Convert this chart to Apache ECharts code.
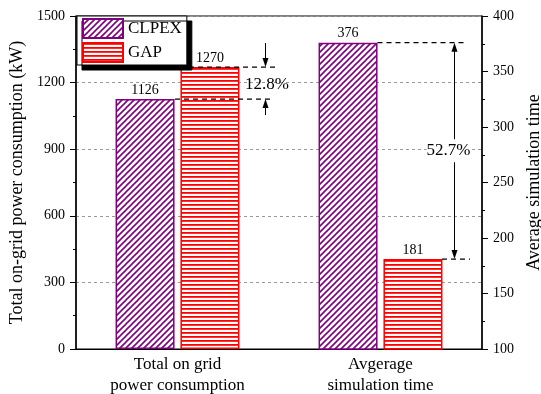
<!DOCTYPE html>
<html>
<head>
<meta charset="utf-8">
<script src="https://cdn.jsdelivr.net/npm/echarts@6/dist/echarts.min.js"></script>
<style>
html, body { margin: 0; padding: 0; background: #fff; }
#main { width: 541px; height: 394px; }
</style>
</head>
<body>
<div id="main"></div>
<script>
// data
var categories = ['Total on grid\npower consumption', 'Avgerage\nsimulation time'];
var clpex = [1126, 376];   // kW , s
var gap = [1270, 181];
var diffText = ['12.8%', '52.7%'];
var leftRange = [0, 1500, 300];
var rightRange = [100, 400, 50];

var FONT = 'Liberation Serif';

// hatch fills
function diagHatch(color) {
  var c = document.createElement('canvas');
  c.width = 6; c.height = 6;
  var ctx = c.getContext('2d');
  ctx.fillStyle = '#fff';
  ctx.fillRect(0, 0, 6, 6);
  ctx.strokeStyle = color;
  ctx.lineWidth = 1.6;
  ctx.beginPath();
  ctx.moveTo(-1, 7); ctx.lineTo(7, -1);
  ctx.moveTo(-1, 1); ctx.lineTo(1, -1);
  ctx.moveTo(5, 7); ctx.lineTo(7, 5);
  ctx.stroke();
  return { image: c, repeat: 'repeat' };
}
function stripeHatch(color) {
  var c = document.createElement('canvas');
  c.width = 4; c.height = 4;
  var ctx = c.getContext('2d');
  ctx.fillStyle = '#fff';
  ctx.fillRect(0, 0, 4, 4);
  ctx.fillStyle = color;
  ctx.fillRect(0, 0, 4, 1.8);
  return { image: c, repeat: 'repeat' };
}

var purple = '#800080';
var red = '#ff0000';

// one series per bar: first category on left axis, second on right axis
function barSeries(name, values, axisIdx, fill, border) {
  return {
    name: name,
    type: 'bar',
    stack: name,
    yAxisIndex: axisIdx,
    data: values.map(function (v, i) { return i === axisIdx ? v : null; }),
    barWidth: 59,
    barGap: '10%',
    itemStyle: { color: fill, borderColor: border, borderWidth: 1.5 },
    label: { show: true, position: 'top', distance: 2, color: '#000', fontFamily: FONT, fontSize: 14 },
    emphasis: { disabled: true }
  };
}

var chart = echarts.init(document.getElementById('main'));

var option = {
  animation: false,
  textStyle: { fontFamily: FONT, color: '#000' },
  grid: { left: 76, right: 59, top: 16, bottom: 45, outerBoundsMode: 'none',
    show: true, borderColor: '#000', borderWidth: 1 },
  legend: {
    data: ['CLPEX', 'GAP'],
    orient: 'vertical',
    left: 77, top: 16,
    itemWidth: 40, itemHeight: 19, itemGap: 3,
    padding: [2, 5, 2, 5],
    icon: 'rect',
    backgroundColor: '#fff',
    borderColor: '#000', borderWidth: 1,
    shadowColor: '#000', shadowBlur: 0, shadowOffsetX: 5, shadowOffsetY: 5,
    textStyle: { fontFamily: FONT, fontSize: 17, color: '#000' }
  },
  xAxis: [{
    type: 'category',
    data: categories,
    axisLine: { lineStyle: { color: '#000', width: 1 } },
    axisTick: { alignWithLabel: true, length: 5, lineStyle: { color: '#000' } },
    axisLabel: { fontFamily: FONT, fontSize: 17, lineHeight: 21, color: '#000', margin: 5, interval: 0 }
  }, {
    type: 'category',
    data: categories,
    position: 'bottom',
    axisLine: { show: false },
    axisTick: { length: 3, lineStyle: { color: '#000' } },
    axisLabel: { show: false }
  }],
  yAxis: [{
    type: 'value',
    position: 'left',
    min: leftRange[0], max: leftRange[1], interval: leftRange[2],
    name: 'Total on-grid power consumption (kW)',
    nameLocation: 'middle', nameGap: 41,
    nameTextStyle: { fontFamily: FONT, fontSize: 18, color: '#000' },
    axisLine: { show: true, lineStyle: { color: '#000', width: 1.5 } },
    axisTick: { show: true, length: 6, lineStyle: { color: '#000' } },
    minorTick: { show: true, splitNumber: 2, length: 3, lineStyle: { color: '#000' } },
    splitLine: { show: true, lineStyle: { color: '#999', type: [3, 3] } },
    axisLabel: { fontFamily: FONT, fontSize: 14, color: '#000', margin: 11,
      formatter: function (v) { return String(v); } }
  }, {
    type: 'value',
    position: 'right',
    min: rightRange[0], max: rightRange[1], interval: rightRange[2],
    name: 'Average simulation time',
    nameLocation: 'middle', nameGap: 40,
    nameTextStyle: { fontFamily: FONT, fontSize: 18, color: '#000' },
    axisLine: { show: true, lineStyle: { color: '#000', width: 1.5 } },
    axisTick: { show: true, length: 6, lineStyle: { color: '#000' } },
    minorTick: { show: true, splitNumber: 2, length: 3, lineStyle: { color: '#000' } },
    splitLine: { show: false },
    axisLabel: { fontFamily: FONT, fontSize: 14, color: '#000', margin: 11 }
  }],
  series: [
    barSeries('CLPEX', clpex, 0, diagHatch(purple), purple),
    barSeries('CLPEX', clpex, 1, diagHatch(purple), purple),
    barSeries('GAP', gap, 0, stripeHatch(red), red),
    barSeries('GAP', gap, 1, stripeHatch(red), red)
  ]
};
chart.setOption(option);

// difference annotations, placed from the axes
var cx0 = chart.convertToPixel({ xAxisIndex: 0 }, 0);
var cx1 = chart.convertToPixel({ xAxisIndex: 0 }, 1);
var yG0 = chart.convertToPixel({ yAxisIndex: 0 }, gap[0]);
var yC0 = chart.convertToPixel({ yAxisIndex: 0 }, clpex[0]);
var yC1 = chart.convertToPixel({ yAxisIndex: 1 }, clpex[1]);
var yG1 = chart.convertToPixel({ yAxisIndex: 1 }, gap[1]);

function dash(x1, x2, y) {
  return { type: 'line', z: 50, shape: { x1: x1, y1: y, x2: x2, y2: y },
    style: { stroke: '#000', lineWidth: 1.3, lineDash: [5, 4] } };
}
function arrow(x, yFrom, yTip) {
  var d = yTip > yFrom ? 1 : -1;
  return [
    { type: 'line', z: 50, shape: { x1: x, y1: yFrom, x2: x, y2: yTip - d * 6 }, style: { stroke: '#000', lineWidth: 1 } },
    { type: 'polygon', z: 50, shape: { points: [[x - 3, yTip - d * 9], [x + 3, yTip - d * 9], [x, yTip]] }, style: { fill: '#000' } }
  ];
}
function note(text, x, y, bg) {
  return { type: 'text', z: 60, x: x, y: y,
    style: { text: text, align: 'center', verticalAlign: 'middle', font: '17px "' + FONT + '"', fill: '#000',
      backgroundColor: bg ? '#fff' : 'transparent', padding: [3, 0] } };
}

var ax0 = cx0 + 88;
var ax1 = cx1 + 74;
var g = [
  dash(cx0 + 2.5, cx0 + 100.5, yG0),
  dash(cx0 - 2.5, cx0 + 95.5, yC0),
  dash(cx1 - 3, cx1 + 85.5, yC1),
  dash(cx1 + 61.5, cx1 + 89.5, yG1)
];
g = g.concat(arrow(ax0, yG0 - 24, yG0));
g = g.concat(arrow(ax0, yC0 + 16, yC0));
g = g.concat(arrow(ax1, (yC1 + yG1) / 2, yC1));
g = g.concat(arrow(ax1, (yC1 + yG1) / 2, yG1));
g.push(note(diffText[0], cx0 + 89.5, (yG0 + yC0) / 2 + 1, false));
g.push(note(diffText[1], cx1 + 68, (yC1 + yG1) / 2, true));

chart.setOption({ graphic: g });
</script>
</body>
</html>
